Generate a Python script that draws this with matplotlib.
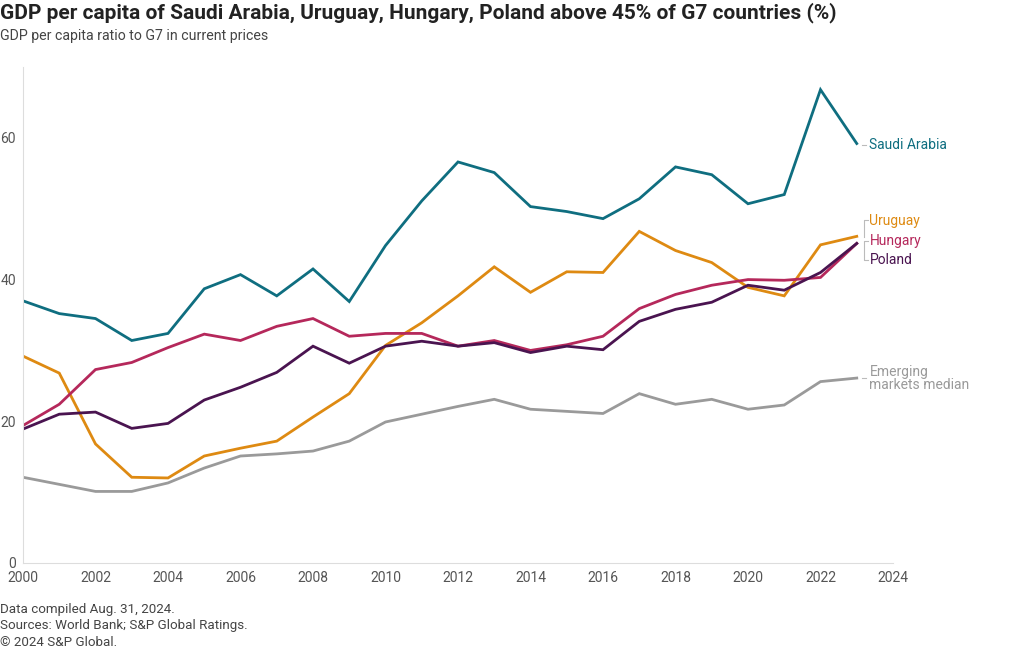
import numpy as np
import matplotlib.pyplot as plt

plt.rcParams['font.family'] = ['Roboto', 'DejaVu Sans']

years = list(range(2000, 2024))

saudi = [37.0, 35.2, 34.5, 31.4, 32.4, 38.7, 40.7, 37.7, 41.5, 36.9, 44.8, 51.1,
         56.6, 55.1, 50.3, 49.6, 48.6, 51.4, 55.9, 54.8, 50.7, 52.0, 66.8, 59.2]
uruguay = [29.2, 26.8, 16.8, 12.1, 12.0, 15.1, 16.2, 17.2, 20.6, 23.9, 30.7, 33.9,
           37.7, 41.8, 38.2, 41.1, 41.0, 46.8, 44.1, 42.4, 38.9, 37.7, 44.9, 46.1]
hungary = [19.4, 22.4, 27.3, 28.3, 30.4, 32.3, 31.4, 33.4, 34.5, 32.0, 32.4, 32.4,
           30.6, 31.4, 30.0, 30.8, 32.0, 35.9, 37.9, 39.2, 40.0, 39.9, 40.3, 45.1]
poland = [18.9, 21.0, 21.3, 19.0, 19.7, 23.0, 24.8, 26.9, 30.6, 28.2, 30.6, 31.3,
          30.6, 31.1, 29.7, 30.6, 30.1, 34.1, 35.8, 36.8, 39.2, 38.5, 41.0, 45.1]
em_median = [12.1, 11.1, 10.1, 10.1, 11.3, 13.4, 15.1, 15.4, 15.8, 17.2, 19.9, 21.0,
             22.1, 23.1, 21.7, 21.4, 21.1, 23.9, 22.4, 23.1, 21.7, 22.3, 25.6, 26.1]

series = [
    ("Emerging\nmarkets median", em_median, '#9a9a9a'),
    ("Uruguay", uruguay, '#de8a12'),
    ("Hungary", hungary, '#b5285b'),
    ("Poland", poland, '#4a1450'),
    ("Saudi Arabia", saudi, '#0f6e80'),
]

fig = plt.figure(figsize=(10.2, 6.5), dpi=100)
ax = fig.add_axes([23/1020, 1 - 563/650, 870/1020, 496/650])

for name, vals, color in series:
    ax.plot(years, vals, color=color, lw=2.0, solid_joinstyle='miter')

ax.set_xlim(2000, 2024)
ax.set_ylim(0, 70)
ax.set_xticks(range(2000, 2025, 2))
ax.set_yticks([0, 20, 40, 60])
for s in ['top', 'right']:
    ax.spines[s].set_visible(False)
for s in ['left', 'bottom']:
    ax.spines[s].set_color('#dddddd')
    ax.spines[s].set_linewidth(0.8)
ax.tick_params(length=0, labelsize=10, colors='#555555')
ax.tick_params(axis='x', pad=6)
ax.tick_params(axis='y', pad=5)

# end labels
conn = '#bbbbbb'
def label(y, text, color):
    ax.text(2023.35, y, text, color=color, fontsize=10, va='center', ha='left',
            linespacing=0.9, clip_on=False)

label(saudi[-1] - 0.2, "Saudi Arabia", '#0f6e80')
ax.plot([2023.15, 2023.25], [saudi[-1] - 0.2] * 2, color=conn, lw=0.8, clip_on=False)

label(48.2, "Uruguay", '#de8a12')
label(45.4, "Hungary", '#b5285b')
label(42.7, "Poland", '#4a1450')
# bracket connectors
ax.plot([2023.3, 2023.2, 2023.2], [48.4, 48.4, 46.0], color=conn, lw=0.8, clip_on=False)
ax.plot([2023.3, 2023.2, 2023.2, 2023.3], [45.4, 45.4, 42.8, 42.8], color=conn, lw=0.8, clip_on=False)

label(26.0, "Emerging\nmarkets median", '#9a9a9a')
ax.plot([2023.15, 2023.25], [26.1] * 2, color=conn, lw=0.8, clip_on=False)

fig.text(0.0, 1 - 13/650, "GDP per capita of Saudi Arabia, Uruguay, Hungary, Poland above 45% of G7 countries (%)",
         fontsize=15, fontweight='bold', color='#222222', va='center', ha='left')
fig.text(0.0, 1 - 36/650, "GDP per capita ratio to G7 in current prices",
         fontsize=10.2, color='#444444', va='center', ha='left')

foot = ["Data compiled Aug. 31, 2024.", "Sources: World Bank; S&P Global Ratings.", "\u00a9 2024 S&P Global."]
for i, t in enumerate(foot):
    fig.text(0.0, 1 - (610 + 16 * i) / 650, t, fontsize=9.6, color='#444444', va='center', ha='left')

fig.savefig('out.png', dpi=100)
